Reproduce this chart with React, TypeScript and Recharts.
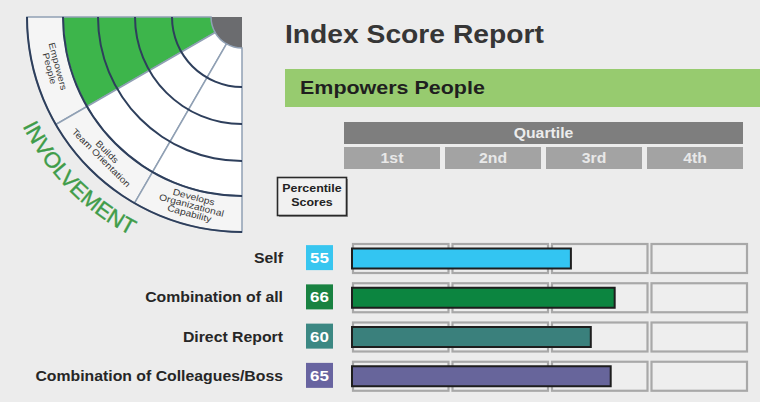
import React from 'react';
import {
  BarChart,
  Bar,
  XAxis,
  YAxis,
  Cell,
  PieChart,
  Pie,
  Customized,
} from 'recharts';

// --- data -------------------------------------------------------------
const categories = ['Self', 'Combination of all', 'Direct Report', 'Combination of Colleagues/Boss'];
const scores = [55, 66, 60, 65];
const quartileLabels = ['1st', '2nd', '3rd', '4th'];

const wheelSectorLines = [
  ['Empowers', 'People'],
  ['Builds', 'Team Orientation'],
  ['Develops', 'Organizational', 'Capability'],
];
const wheelShares = [1, 1, 1];
const highlightedSector = 0;

// --- styles -----------------------------------------------------------
const FONT = '"Liberation Sans", Arial, Helvetica, sans-serif';
const SX = 1.13; // the report's typeface is set a little wide
const BG = '#ececec';
const barColors = ['#33c5f2', '#0c8540', '#3a807c', '#67659b'];
const badgeColors = ['#38c6f0', '#198241', '#3c8883', '#6864a0'];
const NAVY = '#2e3f5c';
const DIVIDER = '#90a0b4';

// wheel geometry
const WX = 242;
const WY = 17;
const CORE_R = 31;
const LABEL_RING = [179, 215];
const ARC_RADII = [70, 107, 144, 179, 215];
const INVOLVEMENT_R = 245;

const rows = categories.map((name, i) => ({ name, score: scores[i] }));
const wheelData = wheelShares.map((value, i) => ({ name: wheelSectorLines[i].join(' '), value }));

const StretchText = ({
  x,
  y,
  size,
  anchor = 'start',
  fill = '#2b2b2b',
  weight = 700,
  sx = SX,
  children,
}: any) => (
  <text
    transform={`translate(${x},${y}) scale(${sx},1)`}
    textAnchor={anchor}
    fontSize={size}
    fontWeight={weight}
    fill={fill}
    fontFamily={FONT}
  >
    {children}
  </text>
);

const sectorLabel = (p: any) => {
  const RAD = Math.PI / 180;
  const r = (p.innerRadius + p.outerRadius) / 2 - 2;
  const x = p.cx + r * Math.cos(-p.midAngle * RAD);
  const y = p.cy + r * Math.sin(-p.midAngle * RAD);
  const lines = wheelSectorLines[p.index] || [];
  const lh = 8.5;
  const y0 = -((lines.length - 1) * lh) / 2 + 3;
  return (
    <text
      key={`lbl-${p.index}`}
      transform={`translate(${x},${y}) rotate(${270 - p.midAngle}) scale(1.15,1)`}
      textAnchor="middle"
      fontSize={9}
      fill="#3a3a3a"
      fontFamily={FONT}
    >
      {lines.map((l, i) => (
        <tspan key={l} x={0} y={y0 + i * lh}>
          {l}
        </tspan>
      ))}
    </text>
  );
};

const Involvement = () => (
  <g>
    <defs>
      <path
        id="involvement-arc"
        d={`M ${WX - INVOLVEMENT_R} ${WY} A ${INVOLVEMENT_R} ${INVOLVEMENT_R} 0 0 0 ${WX} ${WY + INVOLVEMENT_R}`}
        fill="none"
      />
    </defs>
    <text fontSize={22} fill="#3f9c49" stroke="#3f9c49" strokeWidth={0.4} fontFamily={FONT}>
      <textPath href="#involvement-arc" startOffset={113}>
        INVOLVEMENT
      </textPath>
    </text>
  </g>
);

const Header = () => (
  <g>
    <StretchText x={285} y={43} size={25} fill="#363636">
      Index Score Report
    </StretchText>
    <rect x={285} y={69} width={475} height={38} fill="#97cb6f" />
    <StretchText x={300} y={94} size={19} fill="#1f1f1f">
      Empowers People
    </StretchText>

    <rect x={344} y={122} width={399} height={22} fill="#7e7e7e" />
    <StretchText x={543.5} y={138} size={14} anchor="middle" fill="#ececec">
      Quartile
    </StretchText>
    {quartileLabels.map((q, i) => (
      <g key={q}>
        <rect x={344 + i * 101} y={147} width={96} height={22} fill="#a3a3a3" />
        <StretchText x={392 + i * 101} y={163} size={14} anchor="middle" fill="#e8e8e8">
          {q}
        </StretchText>
      </g>
    ))}

    <rect x={279} y={179} width={69} height={38} fill="#9a9a9a" />
    <rect x={277.5} y={177.5} width={69} height={38} fill="#f1f1f1" stroke="#2a2a2a" strokeWidth={1.6} />
    <StretchText x={312} y={192} size={11} anchor="middle" fill="#222">
      Percentile
    </StretchText>
    <StretchText x={312} y={206} size={11} anchor="middle" fill="#222">
      Scores
    </StretchText>
  </g>
);

const RowTick = (props: any) => {
  const { x, y, payload } = props;
  const i = categories.indexOf(payload.value);
  return (
    <g>
      <StretchText x={x - 69} y={y + 5} size={14} anchor="end" fill="#262626">
        {payload.value}
      </StretchText>
      <rect x={x - 46} y={y - 13} width={27} height={25} fill={badgeColors[i]} />
      <StretchText x={x - 32.5} y={y + 5} size={15} anchor="middle" fill="#ffffff">
        {scores[i]}
      </StretchText>
    </g>
  );
};

const QuartileTrack = (props: any) => {
  const { x, y, width, height } = props;
  const q = width / quartileLabels.length;
  return (
    <g>
      {quartileLabels.map((l, i) => (
        <rect
          key={l}
          x={x + i * q + 1}
          y={y - 5.5 + 1}
          width={q - 4}
          height={height + 11 - 2}
          fill="#eeeeee"
          stroke="#a8a8a8"
          strokeWidth={2.2}
        />
      ))}
    </g>
  );
};

export default function App() {
  return (
    <div style={{ position: 'relative', width: 760, height: 402, background: BG, overflow: 'hidden' }}>
      <style>{'body{margin:0}'}</style>
      <div style={{ position: 'absolute', left: 0, top: 0 }}>
        <PieChart width={270} height={270} margin={{ top: 0, right: 0, bottom: 0, left: 0 }}>
          <Pie
            data={[{ value: 1 }]}
            dataKey="value"
            cx={WX}
            cy={WY}
            startAngle={180}
            endAngle={270}
            innerRadius={0}
            outerRadius={CORE_R}
            fill="#6b6c6f"
            stroke="none"
            isAnimationActive={false}
          />
          <Pie
            data={wheelData}
            dataKey="value"
            cx={WX}
            cy={WY}
            startAngle={180}
            endAngle={270}
            innerRadius={CORE_R}
            outerRadius={LABEL_RING[0]}
            stroke={DIVIDER}
            strokeWidth={1.5}
            isAnimationActive={false}
          >
            {wheelData.map((d, i) => (
              <Cell key={d.name} fill={i === highlightedSector ? '#3db54b' : '#ffffff'} />
            ))}
          </Pie>
          <Pie
            data={wheelData}
            dataKey="value"
            cx={WX}
            cy={WY}
            startAngle={180}
            endAngle={270}
            innerRadius={LABEL_RING[0]}
            outerRadius={LABEL_RING[1]}
            fill="#f5f5f5"
            stroke={DIVIDER}
            strokeWidth={1.5}
            label={sectorLabel}
            labelLine={false}
            isAnimationActive={false}
          />
          {ARC_RADII.map((r) => (
            <Pie
              key={r}
              data={[{ value: 1 }]}
              dataKey="value"
              cx={WX}
              cy={WY}
              startAngle={180}
              endAngle={270}
              innerRadius={r - 1}
              outerRadius={r + 1}
              fill={NAVY}
              stroke="none"
              isAnimationActive={false}
            />
          ))}
          <Customized component={<Involvement />} />
        </PieChart>
      </div>
      <div style={{ position: 'absolute', left: 0, top: 0 }}>
        <BarChart
          width={760}
          height={402}
          data={rows}
          layout="vertical"
          margin={{ top: 238.5, right: 10, bottom: 6.5, left: 0 }}
        >
          <Customized component={<Header />} />
          <XAxis type="number" domain={[0, 100]} hide />
          <YAxis
            type="category"
            dataKey="name"
            width={352}
            axisLine={false}
            tickLine={false}
            tickSize={0}
            tickMargin={0}
            tick={<RowTick />}
          />
          <Bar
            dataKey="score"
            barSize={20}
            stroke="#1e1e1e"
            strokeWidth={2}
            background={<QuartileTrack />}
            isAnimationActive={false}
          >
            {rows.map((r, i) => (
              <Cell key={r.name} fill={barColors[i]} />
            ))}
          </Bar>
        </BarChart>
      </div>
    </div>
  );
}
